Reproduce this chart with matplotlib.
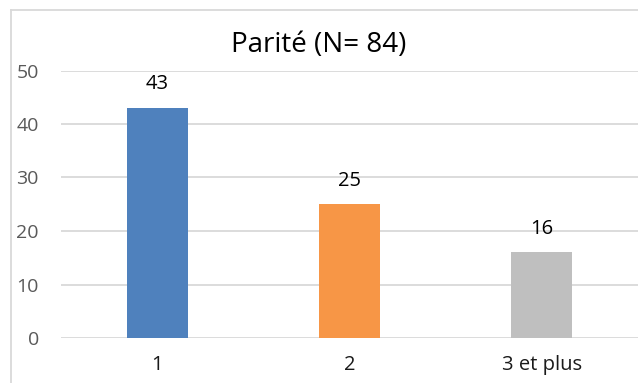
import matplotlib.pyplot as plt
from matplotlib.lines import Line2D

categories = ['1', '2', '3 et plus']
counts = [43, 25, 16]
colors = ['#4F81BD', '#F79646', '#BFBFBF']
yticks = [0, 10, 20, 30, 40, 50]

plt.rcParams['font.family'] = ['Open Sans', 'DejaVu Sans']

fig = plt.figure(figsize=(6.38, 3.83), dpi=100)
ax = fig.add_axes([61 / 638, 45 / 383, 577 / 638, 267.5 / 383])

x = range(len(categories))
ax.bar(x, counts, width=0.317, color=colors, zorder=3)
for i, v in zip(x, counts):
    ax.annotate(str(v), (i, v), xytext=(0, 13.5), textcoords='offset points',
                ha='center', va='baseline', fontsize=14.5, color='#000000')

ax.set_xlim(-0.5, len(categories) - 0.5)
ax.set_ylim(0, 50)
ax.set_yticks(yticks)
ax.set_xticks(list(x))
ax.set_xticklabels(categories)
ax.grid(axis='y', color='#D9D9D9', linewidth=1.3, zorder=0)
for s in ax.spines.values():
    s.set_visible(False)
ax.tick_params(axis='both', length=0)
ax.tick_params(axis='y', labelsize=14, labelcolor='#595959', pad=16)
ax.tick_params(axis='x', labelsize=14.5, labelcolor='#1a1a1a', pad=12)

fig.text(0.5, 1 - 52 / 383, 'Parité (N= 84)', ha='center', va='baseline',
         fontsize=20, color='#000000')

# outer chart border (left and top edges)
fig.add_artist(Line2D([11 / 638, 11 / 638], [0, 1 - 10 / 383],
                      transform=fig.transFigure, color='#D9D9D9', linewidth=1.3))
fig.add_artist(Line2D([11 / 638, 1], [1 - 10 / 383, 1 - 10 / 383],
                      transform=fig.transFigure, color='#D9D9D9', linewidth=1.3))

fig.savefig('out.png', dpi=100)
